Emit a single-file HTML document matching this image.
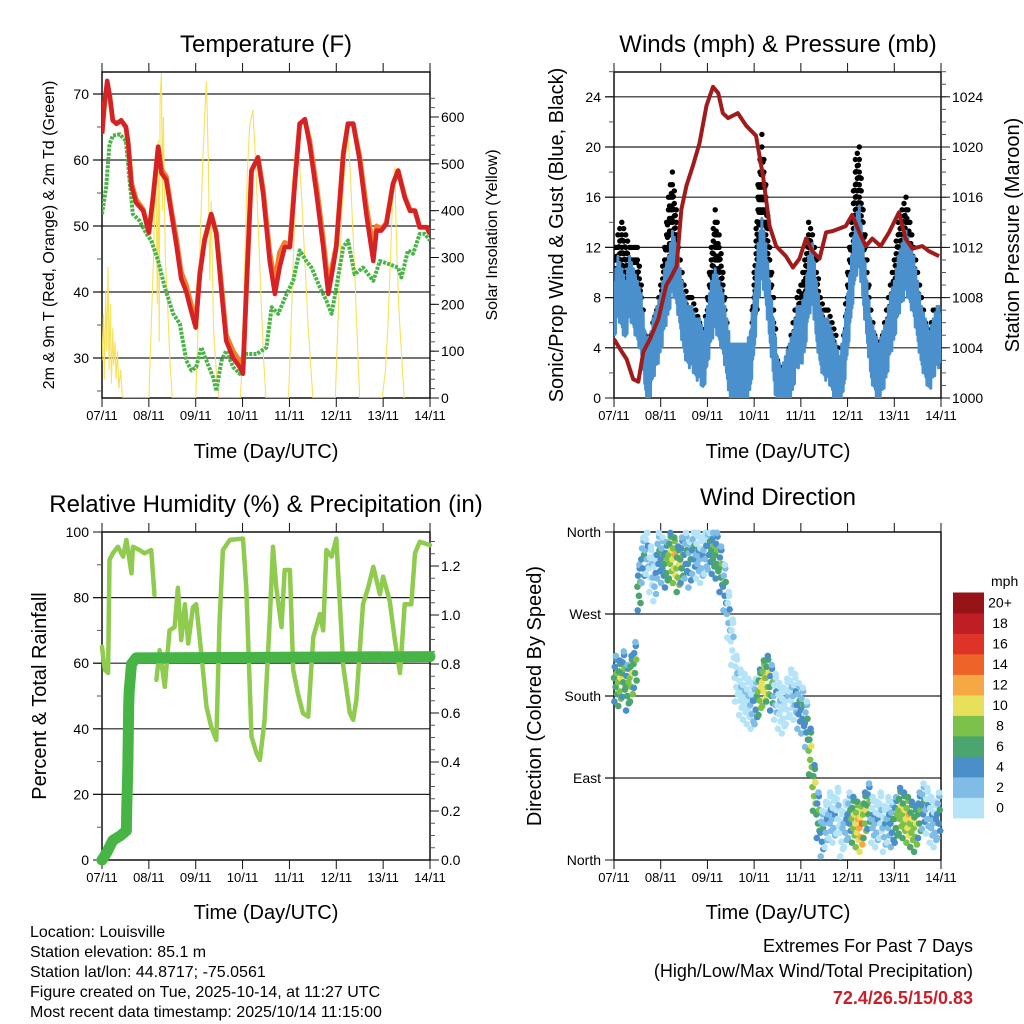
<!DOCTYPE html>
<html><head><meta charset="utf-8"><style>
body{margin:0;background:#fff;}
svg{display:block;font-family:"Liberation Sans",sans-serif;}
</style></head><body>
<svg id="chart" width="1024" height="1024" viewBox="0 0 1024 1024" xmlns="http://www.w3.org/2000/svg">
<g font-size="24" text-anchor="middle">
<text x="266" y="52">Temperature (F)</text>
<text x="778" y="52">Winds (mph) &amp; Pressure (mb)</text>
<text x="266" y="512">Relative Humidity (%) &amp; Precipitation (in)</text>
<text x="778" y="505">Wind Direction</text>
</g>
<g font-size="20" text-anchor="middle">
<text x="266" y="458">Time (Day/UTC)</text>
<text x="778" y="458">Time (Day/UTC)</text>
<text x="266" y="919">Time (Day/UTC)</text>
<text x="778" y="919">Time (Day/UTC)</text>
<text transform="translate(54,235) rotate(-90)" font-size="16">2m &amp; 9m T (Red, Orange) &amp; 2m Td (Green)</text>
<text transform="translate(497,235) rotate(-90)" font-size="16">Solar Insolation (Yellow)</text>
<text transform="translate(563,235) rotate(-90)">Sonic/Prop Wind &amp; Gust (Blue, Black)</text>
<text transform="translate(1019,235) rotate(-90)">Station Pressure (Maroon)</text>
<text transform="translate(46,696) rotate(-90)">Percent &amp; Total Rainfall</text>
<text transform="translate(541,696) rotate(-90)">Direction (Colored By Speed)</text>
</g>
<g font-size="16">
<text x="30" y="937">Location: Louisville</text>
<text x="30" y="957">Station elevation: 85.1 m</text>
<text x="30" y="977">Station lat/lon: 44.8717; -75.0561</text>
<text x="30" y="997">Figure created on Tue, 2025-10-14, at 11:27 UTC</text>
<text x="30" y="1017">Most recent data timestamp: 2025/10/14 11:15:00</text>
</g>
<g font-size="18" text-anchor="end">
<text x="973" y="952">Extremes For Past 7 Days</text>
<text x="973" y="977">(High/Low/Max Wind/Total Precipitation)</text>
<text x="973" y="1004" fill="#c8202a" font-weight="bold">72.4/26.5/15/0.83</text>
</g>
<g id="layer"></g>
</svg>
<script>
// ---- Temperature panel data (days since 07/11) ----
const tempT=[0,.06,.11,.16,.23,.31,.41,.51,.56,.63,.73,.88,1.00,1.09,1.20,1.27,1.37,1.48,1.59,1.69,1.80,1.87,2.00,2.09,2.19,2.33,2.44,2.55,2.65,2.80,2.94,3.01,3.08,3.19,3.33,3.44,3.58,3.69,3.79,3.90,4.01,4.11,4.22,4.33,4.43,4.58,4.72,4.83,4.93,5.00,5.15,5.25,5.36,5.50,5.64,5.79,5.86,5.96,6.07,6.21,6.32,6.46,6.57,6.68,6.78,6.93,7.0];
const tempRed=[64,69,72,70,66,65.5,66,65,62.5,56,53.5,52.3,49,54.4,62,58,57,52,47,42,40,38,34.6,42.7,47.8,51.8,48.8,40,32.6,30,28.6,27.6,40,58.4,60.4,54.8,44.7,39.7,43.7,46.8,46.8,55.9,65.5,66.2,62.4,54.8,46.8,39.7,43.7,46.8,60.9,65.5,65.5,59.9,51.8,44.7,49.3,49.3,50.3,56.4,58.4,54.3,52.3,52.3,49.8,49.8,48.8];
const tempOrange=[64,69,71,70,66,65.5,66,65,62.5,56.5,54,52.5,49,54.4,62,58.5,57.5,52.5,48,43,41,39,35.5,43,48,51.8,49,41,33.5,31,29.5,28.5,40,58.4,60.4,55.5,46,41.5,46,47.5,47,56.5,65.5,66,63,56,48,41,44.5,47,61,65.5,65.5,60.5,53,46.5,50,49.5,50.5,56.4,58.4,54.5,52.5,52.3,49.8,49.8,48.8];
const dewT=[0,.09,.16,.23,.38,.51,.59,.66,.80,.95,1.05,1.20,1.34,1.52,1.66,1.80,1.91,2.01,2.12,2.23,2.37,2.44,2.55,2.65,2.80,2.94,3.08,3.30,3.51,3.62,3.76,3.94,4.08,4.22,4.36,4.47,4.65,4.79,4.90,5.00,5.15,5.25,5.39,5.57,5.79,5.93,6.14,6.32,6.39,6.53,6.64,6.78,6.89,7.0];
const dewV=[51.8,55.9,62.4,63.7,63.9,62.9,56.9,51.8,50.8,48.8,47.8,44.7,40.7,36.7,35.2,29.6,28.1,28.6,31.6,29.6,27.1,25,29.6,31.1,28.6,27.6,30.6,30.6,31.6,37.7,36.7,39.7,41.7,46.3,44.7,43.7,40.7,38.7,36.7,40.7,46.8,47.8,42.7,43.7,41.7,44.7,44.2,43.7,42.2,46.3,45.8,48.8,48.8,47.8];
const solarT=[0,.03,.05,.08,.1,.13,.15,.18,.2,.23,.25,.28,.3,.33,.36,.4,.43,.45,1.0,1.05,1.1,1.15,1.18,1.2,1.22,1.24,1.27,1.29,1.31,1.35,1.4,1.45,1.5,2.0,2.05,2.1,2.15,2.2,2.23,2.27,2.3,2.33,2.38,2.45,2.5,2.95,3.0,3.05,3.1,3.15,3.22,3.28,3.33,3.4,3.45,3.5,3.98,4.05,4.1,4.15,4.2,4.25,4.3,4.4,4.5,4.98,5.05,5.12,5.2,5.25,5.3,5.38,5.45,5.5,5.98,6.05,6.1,6.15,6.2,6.25,6.28,6.33,6.4,6.45];
const solarV=[80,180,40,230,100,280,60,200,30,150,70,120,40,100,20,60,10,0,0,150,300,500,200,550,120,640,694,400,600,300,200,80,0,0,150,350,500,620,675,500,250,420,150,40,0,0,80,300,480,580,615,500,380,200,80,0,0,200,350,480,520,450,350,150,0,0,200,400,520,560,480,300,120,0,0,60,150,280,420,494,350,200,80,0];
const tempTicks=[30,40,50,60,70];
const solarTicks=[0,100,200,300,400,500,600];
const dayLabels=["07/11","08/11","09/11","10/11","11/11","12/11","13/11","14/11"];
// ---- Wind panel data (2-hourly) ----
const windMean=[7,9,8,7,9,8,7,6,3,2,4,5, 6,8,9,11,10,8,6,5,5,4,4,3, 5,7,8,7,6,4,2,2,2,2,2,3, 6,10,12,10,7,4,1,0,1,2,3,5, 5,6,9,10,7,5,4,4,3,2,1,3, 6,9,12,13,10,7,4,3,2,3,4,6, 7,9,10,11,10,9,7,5,4,3,4,5];
const windGust=[11,13,14,13,12,12,12,9,5,4,6,7, 9,12,16,18,15,11,9,8,8,7,6,5, 8,12,15,13,10,6,3,3,4,3,3,4, 10,17,21,17,12,8,3,2,2,4,6,8, 9,11,14,13,11,8,7,7,6,5,3,5, 10,14,19,20,15,11,7,5,4,5,7,9, 11,14,15,16,14,12,10,8,6,5,7,7];
const presT=[0,.13,.27,.41,.52,.63,.77,.95,1.12,1.23,1.34,1.44,1.55,1.69,1.83,1.98,2.12,2.23,2.33,2.44,2.65,2.83,3.04,3.19,3.33,3.47,3.68,3.83,3.97,4.11,4.25,4.40,4.54,4.68,4.96,5.10,5.25,5.39,5.53,5.71,5.89,6.10,6.24,6.39,6.60,6.74,6.96];
const presV=[1004.7,1003.9,1003.1,1001.5,1001.3,1003.7,1004.7,1006.3,1009,1009.7,1010.5,1015,1016.9,1018.5,1020.3,1023.3,1024.8,1024.3,1022.7,1022.3,1022.7,1021.7,1020.9,1017.7,1013.7,1012.1,1011.3,1010.4,1011.1,1012.7,1011.7,1011.1,1013.2,1013.3,1013.7,1014.6,1013.2,1012.1,1012.7,1012.1,1013.2,1014.8,1012.7,1011.9,1012.1,1011.7,1011.3];
const windTicks=[0,4,8,12,16,20,24];
const presTicks=[1000,1004,1008,1012,1016,1020,1024];
// ---- RH / precip ----
const rhT=[0,.06,.13,.16,.23,.34,.45,.52,.63,.66,.80,.91,1.05,1.12,null,1.16,1.23,1.34,1.44,1.55,1.62,1.69,1.77,1.84,1.94,2.01,2.12,2.23,2.33,2.44,2.51,2.58,2.73,3.01,3.08,3.19,3.30,3.37,3.47,3.58,3.65,3.72,3.83,3.90,4.01,4.08,4.18,4.29,4.40,4.51,4.65,4.72,4.79,4.90,5.00,5.15,5.29,5.36,5.43,5.57,5.68,5.79,5.93,6.00,6.14,6.25,6.36,6.46,6.60,6.68,6.78,7.0];
const rhV=[65,58,57,91.5,93.5,95.5,92.5,97.6,87.4,95.5,94.5,93.5,94.5,80.8,null,54.9,64,52.8,70,71,83,67,78,66,77,78,63,46.7,40.6,36.6,73,94.5,97.6,98,83,37.6,32.5,30.5,42.7,73,95.5,83,71,88.4,88.4,58,50.8,44.7,43.7,68,75,70,94.5,92.5,98,59,44.7,42.7,48.8,78,83,89.4,81,86.4,79,67,57,78,78,93.5,97,96];
const rainT=[0,.1,.23,.4,.52,.53,.55,.57,.58,.63,.73,7.0];
const rainV=[0,.03,.08,.1,.12,.22,.37,.63,.69,.80,.825,.83];
const rhTicks=[0,20,40,60,80,100];
const rainTicks=["0.0","0.2","0.4","0.6","0.8","1.0","1.2"];
// ---- Wind direction (2-hourly, deg) ----
const windDir=[200,195,205,190,200,215,300,330,340,320,310,335, 330,325,335,330,320,330,335,325,340,335,330,340, 345,340,335,320,300,270,240,200,185,180,175,170, 175,185,195,200,190,180,170,165,175,185,180,170, 165,150,120,80,50,30,40,50,45,55,30,40, 50,45,40,35,50,60,45,40,50,35,45,40, 45,55,50,45,40,35,50,60,55,45,40,50];
const dirLabels=["North","East","South","West","North"];
const speedBins=["0","2","4","6","8","10","12","14","16","18","20+"];
const speedColors=["#b5e3f8","#7fbde6","#4a8fc7","#4aa56e","#7cc24a","#e8e05a","#f5a844","#ee6428","#de3428","#be1e24","#961418"];

const NS="http://www.w3.org/2000/svg";
const layer=document.getElementById('layer');
function add(parent,tag,attrs,name){
  const el=document.createElementNS(NS,tag);
  for(const k in attrs) el.setAttribute(k,attrs[k]);
  
  
  parent.appendChild(el);
  return el;
}
function lin(d0,d1,r0,r1){return v=>r0+(v-d0)*(r1-r0)/(d1-d0);}
function pts(ts,vs,sx,sy){
  const segs=[];let cur=[];
  for(let i=0;i<ts.length;i++){
    if(ts[i]===null||vs[i]===null){if(cur.length)segs.push(cur);cur=[];continue;}
    cur.push(sx(ts[i]).toFixed(1)+","+sy(vs[i]).toFixed(1));
  }
  if(cur.length)segs.push(cur);
  return segs.map(s=>s.join(" "));
}
function frame(g,x0,y0,x1,y1,leftTicks,ly,leftMinor,rightTicks,ry,rightMinor,gridVals,labLeft,labRight,name){
  const sx=lin(0,7,x0,x1);
  gridVals.forEach(v=>{add(g,'line',{x1:x0-9,x2:x1,y1:ly(v),y2:ly(v),stroke:'#222','stroke-width':1.2},name+'-gridline');});
  add(g,'rect',{x:x0,y:y0,width:x1-x0,height:y1-y0,fill:'none',stroke:'#111','stroke-width':1.5},name+'-frame');
  for(let d=0;d<=7;d++){
    const x=sx(d);
    add(g,'line',{x1:x,x2:x,y1:y1,y2:y1+9,stroke:'#111','stroke-width':1},name+'-x-tick');
    add(g,'line',{x1:x,x2:x,y1:y0,y2:y0-9,stroke:'#111','stroke-width':1},name+'-x-tick-top');
    const t=add(g,'text',{x:x,y:y1+22,'font-size':13,'text-anchor':'middle'},name+'-x-tick-label');
    t.textContent=dayLabels[d];
  }
  leftMinor.forEach(v=>{add(g,'line',{x1:x0-5,x2:x0,y1:ly(v),y2:ly(v),stroke:'#555','stroke-width':1},name+'-y-minor-tick');});
  leftTicks.forEach((v,i)=>{
    add(g,'line',{x1:x0-9,x2:x0,y1:ly(v),y2:ly(v),stroke:'#111','stroke-width':1},name+'-y-tick');
    const t=add(g,'text',{x:x0-13,y:ly(v)+5,'font-size':14,'text-anchor':'end'},name+'-y-tick-label');
    t.textContent=labLeft?labLeft[i]:v;
  });
  rightMinor.forEach(v=>{add(g,'line',{x1:x1,x2:x1+5,y1:ry(v),y2:ry(v),stroke:'#555','stroke-width':1},name+'-y2-minor-tick');});
  rightTicks.forEach((v,i)=>{
    add(g,'line',{x1:x1,x2:x1+9,y1:ry(v),y2:ry(v),stroke:'#111','stroke-width':1},name+'-y2-tick');
    if(labRight!==false){
      const t=add(g,'text',{x:x1+11,y:ry(v)+5,'font-size':14},name+'-y2-tick-label');
      t.textContent=labRight?labRight[i]:v;
    }
  });
  return sx;
}
function range(a,b,s){const r=[];for(let v=a;v<=b+1e-9;v+=s)r.push(+v.toFixed(4));return r;}

// ===== Panel 1: Temperature =====
(function(){
  const g=add(layer,'g',{},'temperature-panel');
  const ty=lin(30,70,358,94), sy=lin(0,600,398,117);
  const sx=frame(g,102,72,430,398,tempTicks,ty,range(25,70,5),solarTicks,sy,range(0,640,20),tempTicks,null,null,'temp');
  const clip=add(g,'clipPath',{id:'c1'},'temp-clip');
  add(clip,'rect',{x:102,y:72,width:328,height:326},'temp-clip-rect');
  const d=add(g,'g',{'clip-path':'url(#c1)'},'temp-series');
  pts(solarT,solarV,sx,sy).forEach(p=>add(d,'polyline',{points:p,fill:'none',stroke:'#f7e15a','stroke-width':1.1},'solar-line'));
  pts(dewT,dewV,sx,ty).forEach(p=>add(d,'polyline',{points:p,fill:'none',stroke:'#4bb347','stroke-width':4,'stroke-dasharray':'3 1.2','stroke-linejoin':'round'},'dewpoint-line'));
  pts(tempT,tempOrange,sx,ty).forEach(p=>add(d,'polyline',{points:p,fill:'none',stroke:'#f37f2a','stroke-width':5,'stroke-linejoin':'round'},'temp-9m-line'));
  pts(tempT,tempRed,sx,ty).forEach(p=>add(d,'polyline',{points:p,fill:'none',stroke:'#d42226','stroke-width':4.5,'stroke-linejoin':'round'},'temp-2m-line'));
})();

// ===== Panel 2: Winds & Pressure =====
(function(){
  const g=add(layer,'g',{},'wind-panel');
  const wy=lin(0,24,398,96.8), py=lin(1000,1024,398,96.8);
  const sx=frame(g,614,72,941,398,windTicks,wy,range(0,26,2),presTicks,py,range(1000,1026,1),windTicks.slice(1),null,null,'wind');
  const clip=add(g,'clipPath',{id:'c2'},'wind-clip');
  add(clip,'rect',{x:614,y:72,width:327,height:326},'wind-clip-rect');
  const d=add(g,'g',{'clip-path':'url(#c2)'},'wind-series');
  const gustG=add(d,'g',{fill:'#000'},'gust-points');
  const offs=[0,0.5/24,1/24,1.5/24];
  for(let i=0;i<windGust.length;i++){
    const t=i/12, nx=(i+1<windGust.length)?windGust[i+1]:windGust[i];
    offs.forEach((o,k)=>{
      const top=windGust[i]+(nx-windGust[i])*k/4-(k%2)*1.2;
      const bot=windMean[i]+1;
      for(let v=top;v>=bot;v-=1.0){
        add(gustG,'circle',{cx:sx(t+o).toFixed(1),cy:wy(v).toFixed(1),r:2.7},'gust-point');
      }
    });
  }
  const zz=[];
  for(let i=0;i<windMean.length;i++){
    const t=i/12, nm=(i+1<windMean.length)?windMean[i+1]:windMean[i];
    for(let k=0;k<8;k++){
      const base=windMean[i]+(nm-windMean[i])*k/8;
      const v=(k%2===0)?base+2.3-(k%4)*0.3:Math.max(0,base-2.6+(k%3)*0.4);
      zz.push(sx(t+k/96).toFixed(1)+","+wy(v).toFixed(1));
    }
  }
  add(d,'polyline',{points:zz.join(" "),fill:'none',stroke:'#4a90cc','stroke-width':3,'stroke-linejoin':'round'},'mean-wind-line');
  pts(presT,presV,sx,py).forEach(p=>add(d,'polyline',{points:p,fill:'none',stroke:'#a01c1c','stroke-width':4,'stroke-linejoin':'round'},'pressure-line'));
})();

// ===== Panel 3: RH & Precip =====
(function(){
  const g=add(layer,'g',{},'humidity-panel');
  const hy=lin(0,100,860,532), ry=lin(0,1.2,860,566);
  const sx=frame(g,102,532,430,860,rhTicks,hy,range(0,100,10),rainTicks.map(Number),ry,range(0,1.3,0.05),[20,40,60,80],null,rainTicks,'rh');
  const clip=add(g,'clipPath',{id:'c3'},'rh-clip');
  add(clip,'rect',{x:96,y:526,width:340,height:340},'rh-clip-rect');
  const d=add(g,'g',{'clip-path':'url(#c3)'},'rh-series');
  pts(rhT,rhV,sx,hy).forEach(p=>add(d,'polyline',{points:p,fill:'none',stroke:'#8fcb4f','stroke-width':4.5,'stroke-linejoin':'round','stroke-linecap':'round'},'rh-line'));
  pts(rainT,rainV,sx,ry).forEach(p=>add(d,'polyline',{points:p,fill:'none',stroke:'#46b546','stroke-width':11,'stroke-linejoin':'round','stroke-linecap':'round'},'rainfall-line'));
})();

// ===== Panel 4: Wind direction =====
(function(){
  const g=add(layer,'g',{},'direction-panel');
  const dy=lin(0,360,860,532);
  const sx=frame(g,614,532,941,860,[0,90,180,270,360],dy,[],[],dy,[],[90,180,270],dirLabels,false,'dir');
  const clip=add(g,'clipPath',{id:'c4'},'dir-clip');
  add(clip,'rect',{x:610,y:528,width:336,height:336},'dir-clip-rect');
  const d=add(g,'g',{'clip-path':'url(#c4)'},'direction-points');
  const offs=[[0,0,-1],[0.4/24,12,-2],[0.8/24,-10,-1],[1.2/24,20,-2],[1.6/24,-18,-1],[0.2/24,-26,-2],[1.0/24,24,-3],[1.4/24,5,0]];
  for(let i=0;i<windDir.length;i++){
    offs.forEach(o=>{
      let v=windDir[i]+o[1]; if(v>359)v=359; if(v<2)v=2;
      const bin=Math.min(10,Math.max(0,Math.round(windMean[i]/2)+o[2]));
      add(d,'circle',{cx:sx(i/12+o[0]).toFixed(1),cy:dy(v).toFixed(1),r:3.3,fill:speedColors[bin]},'direction-point');
    });
  }
  const cb=add(g,'g',{},'speed-colorbar');
  const t=add(cb,'text',{x:991,y:586,'font-size':14},'colorbar-title');
  t.textContent='mph';
  speedBins.forEach((lab,i)=>{
    const y=818-(i+1)*20.5;
    add(cb,'rect',{x:953,y:y.toFixed(1),width:31,height:20.9,fill:speedColors[i]},'colorbar-box');
    const tt=add(cb,'text',{x:1000,y:(y+15).toFixed(1),'font-size':14,'text-anchor':'middle'},'colorbar-label');
    tt.textContent=lab;
  });
})();
</script>
</body></html>
